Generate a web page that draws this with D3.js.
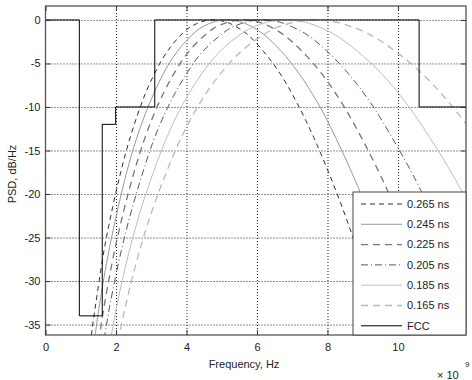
<!DOCTYPE html>
<html>
<head>
<meta charset="utf-8">
<script src="https://cdn.jsdelivr.net/npm/d3@7"></script>
<style>
  body { margin: 0; background: #fff; }
  text { font-family: "Liberation Sans", Arial, sans-serif; font-size: 11px; fill: #222; }
</style>
</head>
<body>
<svg id="container" width="472" height="380"></svg>
<script>
// tick values
const xTicks = [0, 2, 4, 6, 8, 10];
const yTicks = [0, -5, -10, -15, -20, -25, -30, -35];

// FCC indoor mask (GHz, dB)
const fccFreq = [0, 0.96, 0.96, 1.61, 1.61, 1.99, 1.99, 3.1, 3.1, 10.6, 10.6, 11.93];
const fccDb   = [0, 0, -34, -34, -12, -12, -10, -10, 0, 0, -10, -10];

// PSD levels (dB) read along every pulse curve, and the frequency (GHz) where each curve hits them
const psdDb = [-38.3, -35.3, -32.5, -26.5, -21.6, -17.4, -13.8, -10.8, -8.3, -6.2, -4.4, -3.0, -1.9, -1.0,
               -0.45, -0.1, 0, -0.1, -0.4, -1.6, -3.6, -6.2, -9.5, -13.5, -18.0, -23.1, -28.8, -35.0, -38.4];
const freq265 = [1.24, 1.33, 1.43, 1.66, 1.90, 2.14, 2.38, 2.62, 2.85, 3.09, 3.33, 3.57, 3.80, 4.04,
                 4.28, 4.52, 4.76, 4.99, 5.23, 5.71, 6.18, 6.66, 7.13, 7.61, 8.08, 8.56, 9.04, 9.51, 9.75];
const freq245 = [1.34, 1.44, 1.54, 1.80, 2.06, 2.31, 2.57, 2.83, 3.09, 3.34, 3.60, 3.86, 4.11, 4.37,
                 4.63, 4.89, 5.14, 5.40, 5.66, 6.17, 6.69, 7.20, 7.72, 8.23, 8.74, 9.26, 9.77, 10.29, 10.54];
const freq225 = [1.46, 1.57, 1.68, 1.96, 2.24, 2.52, 2.80, 3.08, 3.36, 3.64, 3.92, 4.20, 4.48, 4.76,
                 5.04, 5.32, 5.60, 5.88, 6.16, 6.72, 7.28, 7.84, 8.40, 8.96, 9.52, 10.08, 10.64, 11.20, 11.48];
const freq205 = [1.60, 1.72, 1.84, 2.15, 2.46, 2.77, 3.07, 3.38, 3.69, 4.00, 4.30, 4.61, 4.92, 5.22,
                 5.53, 5.84, 6.15, 6.45, 6.76, 7.38, 7.99, 8.60, 9.22, 9.83, 10.45, 11.06, 11.68, 12.29];
const freq185 = [1.77, 1.91, 2.04, 2.38, 2.72, 3.07, 3.41, 3.75, 4.09, 4.43, 4.77, 5.11, 5.45, 5.79,
                 6.13, 6.47, 6.81, 7.15, 7.49, 8.17, 8.85, 9.54, 10.22, 10.90, 11.58, 12.26];
const freq165 = [1.99, 2.14, 2.29, 2.67, 3.05, 3.44, 3.82, 4.20, 4.58, 4.96, 5.35, 5.73, 6.11, 6.49,
                 6.87, 7.25, 7.64, 8.02, 8.40, 9.16, 9.93, 10.69, 11.45, 12.22];

const seriesNames = ["0.265 ns", "0.245 ns", "0.225 ns", "0.205 ns", "0.185 ns", "0.165 ns"];
const seriesFreqs = [freq265, freq245, freq225, freq205, freq185, freq165];
const seriesStyle = [
    { color: "#1a1a1a", width: 0.9, dash: "5,4" },
    { color: "#999", width: 1, dash: null },
    { color: "#777", width: 1.3, dash: "7,5" },
    { color: "#444", width: 0.9, dash: "7,3,1,3" },
    { color: "#bdbdbd", width: 1, dash: null },
    { color: "#b8b8b8", width: 1.3, dash: "7,5" }
];

const svg = d3.select('#container');
const pLeft = 45.5, pRight = 466, pTop = 6, pBottom = 335;

const x = d3.scaleLinear().domain([0, 11.93]).range([pLeft, pRight]);
const y = d3.scaleLinear().domain([-36.2, 1.6]).range([pBottom, pTop]);

svg.append("rect").attr("width", 472).attr("height", 380).attr("fill", "#fff");

svg.append("defs").append("clipPath").attr("id", "plotclip")
    .append("rect").attr("x", pLeft).attr("y", pTop).attr("width", pRight - pLeft).attr("height", pBottom - pTop);

// grid
svg.append('g')
    .attr('transform', 'translate(0,' + pBottom + ')')
    .call(d3.axisBottom(x).tickValues(xTicks.slice(1)).tickSize(-(pBottom - pTop)).tickFormat(""))
    .call(g => g.select(".domain").remove())
    .selectAll("line").attr("stroke", "#222").attr("stroke-dasharray", "1,2");
svg.append('g')
    .attr('transform', 'translate(' + pLeft + ',0)')
    .call(d3.axisLeft(y).tickValues(yTicks).tickSize(-(pRight - pLeft)).tickFormat(""))
    .call(g => g.select(".domain").remove())
    .selectAll("line").attr("stroke", "#222").attr("stroke-dasharray", "1,2");

// pulse curves
const line = d3.line().x(d => x(d[0])).y(d => y(d[1])).curve(d3.curveCatmullRom);
const plot = svg.append("g").attr("clip-path", "url(#plotclip)");
seriesFreqs.forEach((fr, i) => {
    const pts = fr.map((f, j) => [f, psdDb[j]]);
    const st = seriesStyle[i];
    plot.append("path")
        .attr("d", line(pts))
        .attr("fill", "none")
        .attr("stroke", st.color)
        .attr("stroke-width", st.width)
        .attr("stroke-dasharray", st.dash);
});

// FCC mask
const fccPts = fccFreq.map((f, i) => [f, fccDb[i]]);
plot.append("path")
    .attr("d", d3.line().x(d => x(d[0])).y(d => y(d[1]))(fccPts))
    .attr("fill", "none").attr("stroke", "#000").attr("stroke-width", 1);

// axes box and inner ticks
svg.append("rect").attr("x", pLeft).attr("y", pTop).attr("width", pRight - pLeft).attr("height", pBottom - pTop)
    .attr("fill", "none").attr("stroke", "#555").attr("stroke-width", 1.3);

const xAxis = svg.append('g')
    .attr('transform', 'translate(0,' + pBottom + ')')
    .call(d3.axisBottom(x).tickValues(xTicks).tickSize(-5).tickPadding(8).tickFormat(d => String(d)));
xAxis.select(".domain").remove();
xAxis.selectAll("line").attr("stroke", "#333");
xAxis.selectAll("text").attr("fill", "#222").attr("font-size", 11).attr("font-family", "Liberation Sans, Arial, sans-serif");

const yAxis = svg.append('g')
    .attr('transform', 'translate(' + pLeft + ',0)')
    .call(d3.axisLeft(y).tickValues(yTicks).tickSize(-5).tickPadding(5).tickFormat(d => String(d)));
yAxis.select(".domain").remove();
yAxis.selectAll("line").attr("stroke", "#333");
yAxis.selectAll("text").attr("fill", "#222").attr("font-size", 11).attr("font-family", "Liberation Sans, Arial, sans-serif");

svg.append('g').attr('transform', 'translate(0,' + pTop + ')')
    .call(d3.axisTop(x).tickValues(xTicks).tickSize(-5).tickFormat(""))
    .call(g => g.select(".domain").remove())
    .selectAll("line").attr("stroke", "#333");
svg.append('g').attr('transform', 'translate(' + pRight + ',0)')
    .call(d3.axisRight(y).tickValues(yTicks).tickSize(-5).tickFormat(""))
    .call(g => g.select(".domain").remove())
    .selectAll("line").attr("stroke", "#333");

// labels
svg.append("text").attr("x", 244).attr("y", 368).attr("text-anchor", "middle").text("Frequency, Hz");
svg.append("text").attr("transform", "translate(16,174) rotate(-90)").attr("text-anchor", "middle").text("PSD, dB/Hz");
svg.append("text").attr("x", 437).attr("y", 379).text("× 10");
svg.append("text").attr("x", 465).attr("y", 367).style("font-size", "8px").text("9");

// legend
const legend = svg.append("g");
legend.append("rect").attr("x", 353).attr("y", 192).attr("width", 113).attr("height", 143)
    .attr("fill", "#fff").attr("stroke", "#444").attr("stroke-width", 1);
const legendNames = seriesNames.concat(["FCC"]);
const legendStyle = seriesStyle.concat([{ color: "#000", width: 1, dash: null }]);
legendNames.forEach((name, i) => {
    const ly = 204 + i * 20.3;
    const st = legendStyle[i];
    legend.append("line").attr("x1", 361).attr("x2", 402).attr("y1", ly).attr("y2", ly)
        .attr("stroke", st.color).attr("stroke-width", st.width).attr("stroke-dasharray", st.dash);
    legend.append("text").attr("x", 407).attr("y", ly).attr("dy", "0.35em").text(name);
});
</script>
</body>
</html>
